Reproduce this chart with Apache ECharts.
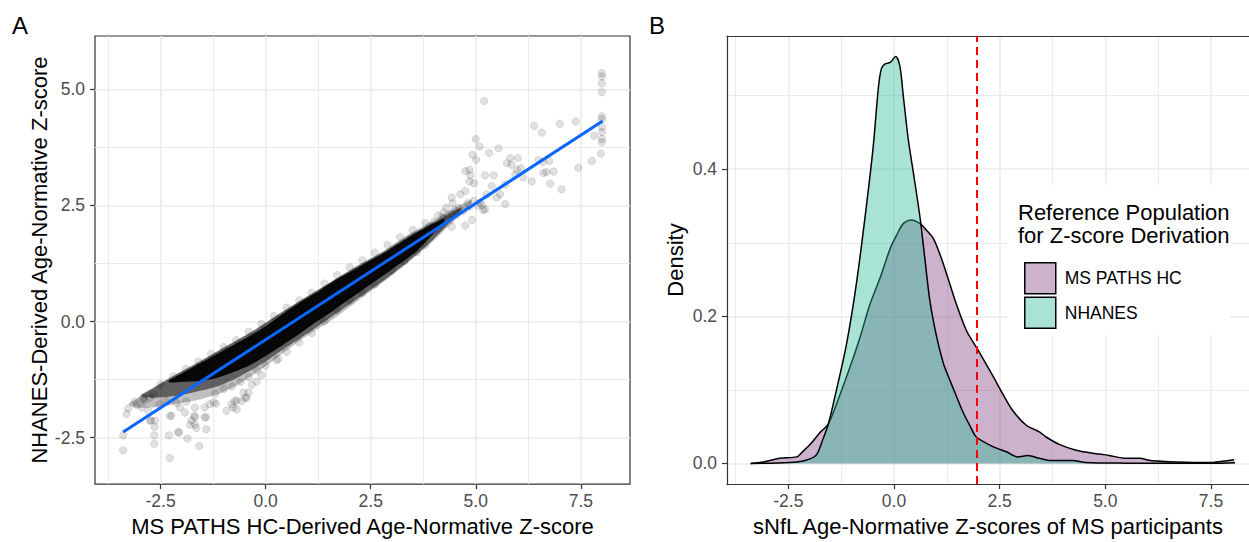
<!DOCTYPE html>
<html>
<head>
<meta charset="utf-8">
<script src="https://cdn.jsdelivr.net/npm/echarts@6/dist/echarts.min.js"></script>
<style>
html, body { margin: 0; padding: 0; background: #fff; }
#chart { width: 1249px; height: 542px; }
</style>
</head>
<body>
<div id="chart"></div>
<script>
const FONT = 'Liberation Sans, Arial, sans-serif'

// tick values (both panels)
const xTicks = [-2.5, 0, 2.5, 5, 7.5]
const xMinor = [-3.75, -1.25, 1.25, 3.75, 6.25]
const yTicksA = [-2.5, 0, 2.5, 5]
const yMinorA = [-1.25, 1.25, 3.75]
const yTicksB = [0, 0.2, 0.4]
const yMinorB = [0.1, 0.3, 0.5]

// panel A: linear fit
const fitLine = [[-3.39, -2.38], [8.02, 4.32]]

// panel A: point cloud density, three levels (upper / lower edge of each)
const haloX = [-3.25, -3.1, -2.7, -2.3, -1.9, -1.5, -1.1, -0.7, -0.3, 0.1, 0.5, 1.0, 1.6, 2.2, 2.8, 3.4, 4.0, 4.6, 4.9]
const haloHi = [-1.76, -1.68, -1.46, -1.24, -1.04, -0.84, -0.63, -0.43, -0.22, 0.02, 0.26, 0.54, 0.88, 1.22, 1.52, 1.88, 2.18, 2.50, 2.63]
const haloLo = [-1.80, -1.85, -1.85, -1.80, -1.74, -1.66, -1.55, -1.38, -1.15, -0.90, -0.62, -0.30, 0.05, 0.45, 0.85, 1.28, 1.74, 2.28, 2.56]

const midX = [-2.95, -2.7, -2.3, -1.9, -1.5, -1.1, -0.7, -0.3, 0.1, 0.5, 1.0, 1.6, 2.2, 2.8, 3.4, 4.0, 4.4, 4.65]
const midHi = [-1.57, -1.44, -1.22, -1.02, -0.82, -0.61, -0.41, -0.20, 0.04, 0.27, 0.55, 0.88, 1.20, 1.50, 1.85, 2.14, 2.34, 2.46]
const midLo = [-1.62, -1.64, -1.62, -1.56, -1.48, -1.38, -1.22, -1.02, -0.80, -0.55, -0.25, 0.12, 0.50, 0.88, 1.30, 1.78, 2.16, 2.40]

const coreX = [-2.3, -2.0, -1.6, -1.2, -0.8, -0.4, 0.0, 0.4, 0.8, 1.2, 1.6, 2.0, 2.4, 2.8, 3.2, 3.6, 4.0, 4.25]
const coreHi = [-1.27, -1.12, -0.92, -0.72, -0.52, -0.32, -0.10, 0.16, 0.40, 0.62, 0.86, 1.06, 1.27, 1.47, 1.70, 1.92, 2.11, 2.22]
const coreLo = [-1.31, -1.30, -1.28, -1.22, -1.10, -0.95, -0.74, -0.51, -0.27, -0.01, 0.23, 0.49, 0.74, 0.99, 1.25, 1.52, 1.90, 2.16]

// panel A: individual points outside the dense band
const pointsA = [
  [-3.39, -2.45], [-3.39, -2.77], [-3.31, -1.99], [-3.27, -1.87], [-3.11, -1.72], [-3.07, -1.79],
  [-2.95, -1.85], [-2.92, -1.67], [-2.91, -1.64], [-2.88, -1.70], [-2.79, -1.92], [-2.76, -1.64],
  [-2.75, -2.13], [-2.73, -2.13], [-2.67, -1.57], [-2.64, -2.27], [-2.65, -2.45], [-2.65, -2.63],
  [-2.63, -2.13], [-2.52, -1.78], [-2.36, -1.71], [-2.30, -2.45], [-2.28, -2.94], [-2.28, -2.03],
  [-2.24, -2.03], [-2.12, -1.75], [-2.08, -2.38], [-2.06, -2.39], [-2.04, -1.85], [-1.92, -1.96],
  [-1.89, -1.72], [-1.86, -2.52], [-1.80, -2.22], [-1.76, -2.13], [-1.70, -2.03], [-1.68, -2.06],
  [-1.68, -1.85], [-1.68, -2.22], [-1.65, -2.29], [-1.58, -2.68], [-1.45, -2.06], [-1.45, -1.85],
  [-1.42, -2.06], [-1.41, -2.32], [-1.33, -1.78], [-1.24, -1.74], [-1.18, -1.77], [-0.93, -1.92],
  [-0.81, -1.78], [-0.77, -1.85], [-0.74, -1.71], [-0.69, -1.89], [-0.69, -1.70], [-0.57, -1.71],
  [-0.53, -1.53], [-0.49, -1.64], [-0.45, -1.64], [-0.41, -1.53], [-0.33, -1.36], [-0.21, -1.29],
  [-0.10, -1.15], [0.26, -0.83],
  [-2.5, -1.35], [-2.2, -1.18], [-1.9, -1.02], [-1.6, -0.86], [-1.3, -0.70], [-1.0, -0.55],
  [-0.7, -0.40], [-0.4, -0.22], [-0.1, -0.05], [0.2, 0.12], [0.5, 0.30], [0.8, 0.46], [1.1, 0.62],
  [1.4, 0.82], [1.7, 1.00], [2.0, 1.17], [2.3, 1.32], [2.6, 1.48], [2.9, 1.65], [3.2, 1.82],
  [3.5, 1.97], [3.8, 2.12], [4.1, 2.28],
  [-1.2, -1.55], [-1.0, -1.45], [-0.8, -1.40], [-0.6, -1.30], [-0.4, -1.20], [-0.2, -1.05],
  [0.0, -0.95], [0.3, -0.80], [0.5, -0.65], [0.8, -0.45], [1.1, -0.25], [1.4, 0.0], [1.7, 0.25],
  [2.0, 0.45], [2.3, 0.62], [2.6, 0.80], [3.0, 1.10], [3.3, 1.30], [3.6, 1.50],
  [3.79, 1.65], [3.9, 2.05], [3.99, 2.04], [4.0, 2.15], [4.1, 2.0], [4.2, 2.25], [4.23, 2.35],
  [4.23, 2.22], [4.25, 2.1], [4.3, 2.45], [4.35, 2.3], [4.4, 2.2], [4.43, 2.67], [4.43, 2.32],
  [4.43, 2.04], [4.45, 2.55], [4.5, 2.4], [4.55, 2.3], [4.6, 2.45], [4.63, 2.74], [4.7, 2.38],
  [4.75, 3.24], [4.75, 2.81], [4.75, 2.07], [4.8, 2.55], [4.85, 3.27], [4.85, 3.02], [4.85, 2.48],
  [4.87, 3.15], [4.91, 2.19], [4.92, 3.59], [4.95, 2.6], [4.96, 2.98], [5.0, 3.93], [5.01, 3.48],
  [5.05, 2.5], [5.09, 3.77], [5.1, 2.56], [5.15, 2.50], [5.18, 2.40], [5.20, 4.75], [5.22, 3.15],
  [5.22, 2.42], [5.26, 2.74], [5.32, 3.63], [5.38, 2.92], [5.43, 3.15], [5.50, 2.67], [5.54, 3.73],
  [5.58, 2.74], [5.70, 2.95], [5.70, 2.53], [5.74, 3.41], [5.82, 3.52], [5.85, 3.38], [5.94, 3.16],
  [5.98, 3.27], [6.0, 3.52], [6.07, 3.30], [6.13, 3.10], [6.33, 3.02], [6.39, 4.21], [6.49, 3.48],
  [6.57, 4.07], [6.60, 3.44], [6.61, 3.20], [6.68, 3.22], [6.75, 3.46], [6.77, 2.97], [6.85, 3.23],
  [7.0, 4.26], [7.04, 2.85], [7.38, 4.31], [7.44, 3.31], [7.76, 3.46], [7.82, 4.0], [7.98, 3.62],
  [8.0, 5.35], [8.0, 5.28], [8.0, 5.13], [8.0, 4.94], [8.0, 4.42], [8.0, 4.36], [8.0, 4.19],
  [8.0, 4.08], [8.0, 3.93], [8.0, 3.86]
]

// panel B: density curves
const msX = [-3.39, -3.09, -2.70, -2.30, -2.18, -1.98, -1.75, -1.55, -1.28, -1.04, -0.80, -0.57, -0.33, -0.09, 0.06, 0.22, 0.42, 0.62, 0.77, 0.93, 1.09, 1.25, 1.48, 1.72, 1.98, 2.34, 2.58, 2.81, 3.13, 3.44, 3.60, 3.91, 4.31, 4.70, 5.09, 5.49, 5.80, 6.12, 6.68, 7.46, 7.77, 8.05]
const msY = [0, 0.002, 0.007, 0.009, 0.015, 0.026, 0.042, 0.054, 0.093, 0.131, 0.172, 0.216, 0.252, 0.292, 0.310, 0.326, 0.331, 0.326, 0.317, 0.306, 0.284, 0.257, 0.216, 0.180, 0.155, 0.119, 0.094, 0.072, 0.052, 0.043, 0.036, 0.026, 0.018, 0.014, 0.011, 0.007, 0.007, 0.0036, 0.002, 0.0013, 0.003, 0.005]
const nhX = [-3.39, -2.9, -2.3, -2.0, -1.83, -1.70, -1.55, -1.36, -1.12, -0.88, -0.65, -0.49, -0.37, -0.30, -0.21, -0.09, 0.04, 0.14, 0.22, 0.34, 0.46, 0.62, 0.73, 0.85, 1.01, 1.17, 1.29, 1.48, 1.64, 1.80, 1.95, 2.34, 2.66, 2.93, 3.17, 3.44, 3.68, 4.22, 4.54, 5.49, 7.5, 8.07]
const nhY = [0, 0.0005, 0.002, 0.006, 0.012, 0.030, 0.054, 0.10, 0.163, 0.248, 0.351, 0.431, 0.510, 0.536, 0.543, 0.545, 0.553, 0.540, 0.500, 0.440, 0.395, 0.333, 0.279, 0.221, 0.172, 0.136, 0.118, 0.091, 0.069, 0.051, 0.036, 0.023, 0.016, 0.009, 0.011, 0.007, 0.004, 0.004, 0.0013, 0.0005, 0.0003, 0.001]
const cutoff = 1.96

const msColor = 'rgba(130, 62, 130, 0.4)'
const nhColor = 'rgba(37, 185, 150, 0.4)'
const frame = { color: '#333', width: 1.2 }

const pairs = (xs, ys) => xs.map((x, i) => [x, ys[i]])

const gridLines = (xs, ys, w) => [
  ...xs.map(v => ({ xAxis: v, lineStyle: { width: w } })),
  ...ys.map(v => ({ yAxis: v, lineStyle: { width: w } }))
]

const gridSeries = (idx, xs, ys, xsMinor, ysMinor) => ({
  type: 'line',
  xAxisIndex: idx,
  yAxisIndex: idx,
  data: [],
  z: 0,
  silent: true,
  markLine: {
    z: 0,
    silent: true,
    symbol: 'none',
    animation: false,
    label: { show: false },
    lineStyle: { color: '#ebebeb', type: 'solid' },
    data: [...gridLines(xsMinor, ysMinor, 1), ...gridLines(xs, ys, 1.6)]
  }
})

const bandSeries = (xs, hi, lo, alpha) => ({
  type: 'custom',
  xAxisIndex: 0,
  yAxisIndex: 0,
  silent: true,
  z: 2,
  data: [[xs[0], lo[0]]],
  renderItem: (params, api) => {
    const top = xs.map((x, i) => api.coord([x, hi[i]]))
    const bottom = xs.map((x, i) => api.coord([x, lo[i]])).reverse()
    return {
      type: 'polygon',
      shape: { points: top.concat(bottom), smooth: 0.2 },
      style: { fill: `rgba(0,0,0,${alpha})` }
    }
  }
})

const xAxisBase = (idx, min, max, name, gap, line) => ({
  type: 'value',
  gridIndex: idx,
  min,
  max,
  name,
  nameLocation: 'middle',
  nameGap: gap,
  nameTextStyle: { fontSize: 22, color: '#000', fontFamily: FONT },
  splitLine: { show: false },
  axisLine: { show: line, onZero: false, lineStyle: frame },
  axisTick: { show: true, length: 5, customValues: xTicks, lineStyle: frame },
  axisLabel: { customValues: xTicks, formatter: v => v.toFixed(1), fontSize: 17.5, color: '#4d4d4d', margin: 8, fontFamily: FONT }
})

const yAxisBase = (idx, min, max, ticks, name, gap, line) => ({
  type: 'value',
  gridIndex: idx,
  min,
  max,
  name,
  nameLocation: 'middle',
  nameGap: gap,
  nameTextStyle: { fontSize: 22, color: '#000', fontFamily: FONT },
  splitLine: { show: false },
  axisLine: { show: line, onZero: false, lineStyle: frame },
  axisTick: { show: true, length: 5, customValues: ticks, lineStyle: frame },
  axisLabel: { customValues: ticks, formatter: v => v.toFixed(1), fontSize: 17.5, color: '#4d4d4d', margin: 10, fontFamily: FONT }
})

const chart = echarts.init(document.getElementById('chart'), null, { renderer: 'svg' })

const option = {
  animation: false,
  backgroundColor: '#fff',
  textStyle: { fontFamily: FONT },
  grid: [
    { left: 95, right: 619, top: 36, bottom: 50, show: true, borderColor: '#333', borderWidth: 1.2, backgroundColor: 'transparent' },
    { left: 727, right: 0, top: 36, bottom: 54, show: false }
  ],
  xAxis: [
    xAxisBase(0, -4.06, 8.67, 'MS PATHS HC-Derived Age-Normative Z-score', 22, false),
    xAxisBase(1, -3.95, 8.40, 'sNfL Age-Normative Z-scores of MS participants', 25, true),
    {
      type: 'value', gridIndex: 1, position: 'top', min: -3.95, max: 8.40,
      axisLine: { show: true, onZero: false, lineStyle: frame },
      axisTick: { show: false }, axisLabel: { show: false }, splitLine: { show: false }
    }
  ],
  yAxis: [
    yAxisBase(0, -3.5, 6.15, yTicksA, 'NHANES-Derived Age-Normative Z-score', 45, false),
    yAxisBase(1, -0.028, 0.581, yTicksB, 'Density', 41, true)
  ],
  legend: {
    data: ['MS PATHS HC', 'NHANES'],
    orient: 'vertical',
    left: 1019,
    top: 257,
    icon: 'rect',
    itemWidth: 31,
    itemHeight: 31,
    itemGap: 2,
    selectedMode: false,
    z: 20,
    itemStyle: { borderColor: '#000', borderWidth: 1.5 },
    textStyle: { fontSize: 17.5, color: '#000', fontFamily: FONT, padding: [0, 0, 0, 4] }
  },
  graphic: [
    { type: 'text', left: 12, top: 13, z: 30, style: { text: 'A', fontSize: 24, fill: '#000', fontFamily: FONT } },
    { type: 'text', left: 649, top: 13, z: 30, style: { text: 'B', fontSize: 24, fill: '#000', fontFamily: FONT } },
    { type: 'rect', left: 1008, top: 185, z: 10, shape: { width: 222, height: 150 }, style: { fill: '#fff' } },
    { type: 'text', left: 1018, top: 201, z: 30, style: { text: 'Reference Population', fontSize: 22, fill: '#000', fontFamily: FONT } },
    { type: 'text', left: 1018, top: 224, z: 30, style: { text: 'for Z-score Derivation', fontSize: 22, fill: '#000', fontFamily: FONT } }
  ],
  series: [
    gridSeries(0, xTicks, yTicksA, xMinor, yMinorA),
    gridSeries(1, xTicks, yTicksB, xMinor, yMinorB),
    bandSeries(haloX, haloHi, haloLo, 0.25),
    bandSeries(midX, midHi, midLo, 0.5),
    bandSeries(coreX, coreHi, coreLo, 0.92),
    {
      type: 'scatter',
      xAxisIndex: 0,
      yAxisIndex: 0,
      z: 3,
      silent: true,
      symbol: 'circle',
      symbolSize: 7.5,
      data: pointsA,
      itemStyle: { color: 'rgba(0,0,0,0.15)', borderColor: 'rgba(0,0,0,0.15)', borderWidth: 0.8 }
    },
    {
      type: 'line',
      xAxisIndex: 0,
      yAxisIndex: 0,
      z: 4,
      silent: true,
      symbol: 'none',
      data: fitLine,
      lineStyle: { color: '#0a66ff', width: 3 }
    },
    {
      name: 'MS PATHS HC',
      type: 'line',
      xAxisIndex: 1,
      yAxisIndex: 1,
      z: 3,
      silent: true,
      symbol: 'none',
      smooth: 0.3,
      color: msColor,
      data: pairs(msX, msY),
      lineStyle: { color: '#000', width: 1.5 },
      areaStyle: { color: msColor, opacity: 1 }
    },
    {
      name: 'NHANES',
      type: 'line',
      xAxisIndex: 1,
      yAxisIndex: 1,
      z: 4,
      silent: true,
      symbol: 'none',
      smooth: 0.3,
      color: nhColor,
      data: pairs(nhX, nhY),
      lineStyle: { color: '#000', width: 1.5 },
      areaStyle: { color: nhColor, opacity: 1 },
      markLine: {
        z: 6,
        silent: true,
        symbol: 'none',
        label: { show: false },
        lineStyle: { color: '#ff0000', type: [8, 5], width: 2 },
        data: [{ xAxis: cutoff }]
      }
    }
  ]
}

chart.setOption(option)
</script>
</body>
</html>
